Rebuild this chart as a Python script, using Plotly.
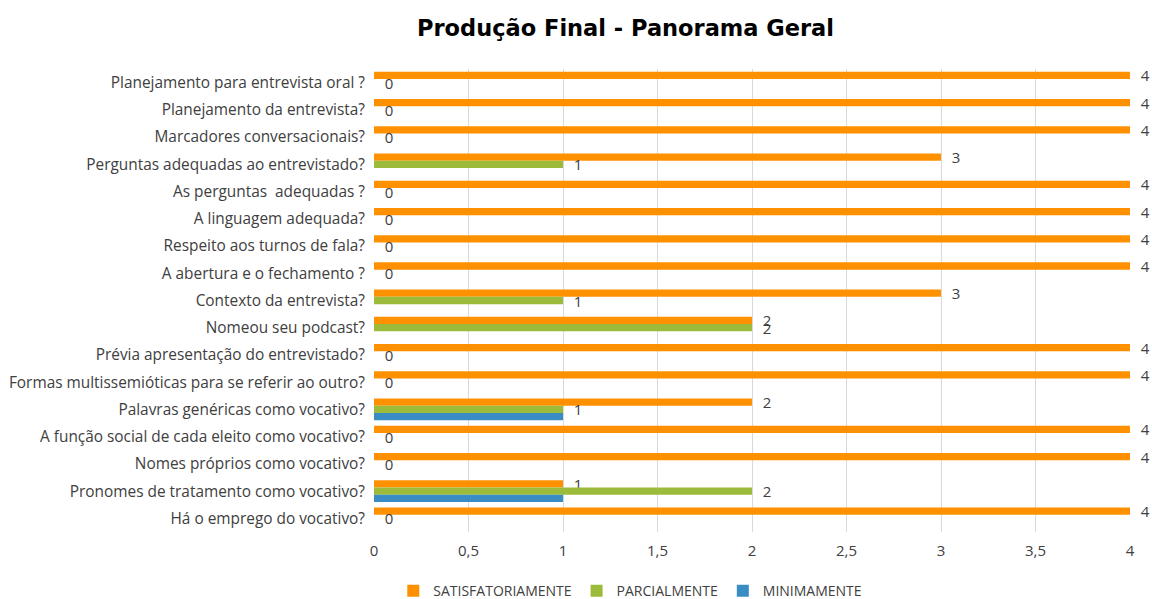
import plotly.graph_objects as go

categories = [
    "Planejamento para entrevista oral ?",
    "Planejamento da entrevista?",
    "Marcadores conversacionais?",
    "Perguntas adequadas ao entrevistado?",
    "As perguntas  adequadas ?",
    "A linguagem adequada?",
    "Respeito aos turnos de fala?",
    "A abertura e o fechamento ?",
    "Contexto da entrevista?",
    "Nomeou seu podcast?",
    "Prévia apresentação do entrevistado?",
    "Formas multissemióticas para se referir ao outro?",
    "Palavras genéricas como vocativo?",
    "A função social de cada eleito como vocativo?",
    "Nomes próprios como vocativo?",
    "Pronomes de tratamento como vocativo?",
    "Há o emprego do vocativo?",
]
satisfatoriamente = [4, 4, 4, 3, 4, 4, 4, 4, 3, 2, 4, 4, 2, 4, 4, 1, 4]
parcialmente = [0, 0, 0, 1, 0, 0, 0, 0, 1, 2, 0, 0, 1, 0, 0, 2, 0]
minimamente = [0, 0, 0, 0, 0, 0, 0, 0, 0, 0, 0, 0, 1, 0, 0, 1, 0]
x_ticks = [0, 0.5, 1, 1.5, 2, 2.5, 3, 3.5, 4]

FONT = "Open Sans"
TXT = "#404040"
pad = "\u00a0\u00a0"

fig = go.Figure()
fig.add_trace(go.Bar(
    y=categories, x=satisfatoriamente, orientation="h", name="SATISFATORIAMENTE",
    marker=dict(color="#FF9000", line=dict(width=0)),
    text=[pad + str(v) for v in satisfatoriamente], textposition="outside",
    constraintext="none",
    textfont=dict(family=FONT, size=15, color=TXT), cliponaxis=False,
))
fig.add_trace(go.Bar(
    y=categories, x=parcialmente, orientation="h", name="PARCIALMENTE",
    marker=dict(color="#9DBB3A", line=dict(width=0)),
    text=[pad + str(v) for v in parcialmente], textposition="outside",
    constraintext="none",
    textfont=dict(family=FONT, size=15, color=TXT), cliponaxis=False,
))
fig.add_trace(go.Bar(
    y=categories, x=minimamente, orientation="h", name="MINIMAMENTE",
    marker=dict(color="#3A8DC4", line=dict(width=0)),
))

fig.update_layout(
    width=1152, height=599,
    paper_bgcolor="white", plot_bgcolor="white",
    separators=",.",
    barmode="group", bargap=0.2, bargroupgap=0,
    margin=dict(l=374, r=22, t=69, b=67, autoexpand=False),
    title=dict(text="<b>Produção Final - Panorama Geral</b>", x=0.543, xanchor="center",
               y=0.953, yanchor="middle",
               font=dict(family="DejaVu Sans", size=22.5, color="#000000")),
    font=dict(family=FONT, size=15, color=TXT),
    showlegend=True,
    legend=dict(orientation="h", x=0.339, xanchor="center", y=-0.093, yanchor="top",
                traceorder="normal", font=dict(family=FONT, size=14, color=TXT),
                itemwidth=30),
)
fig.update_xaxes(range=[0, 4], tickvals=x_ticks, showgrid=True, gridcolor="#D9D9D9",
                 gridwidth=1, zeroline=False, showline=False, ticks="",
                 ticklabelstandoff=8,
                 tickfont=dict(family=FONT, size=15, color=TXT))
fig.update_yaxes(autorange="reversed", showgrid=False, showline=False, ticks="",
                 ticklabelstandoff=8,
                 tickfont=dict(family=FONT, size=15.4, color=TXT))

fig.write_html("out.html", config={"displayModeBar": False})
with open("out.html", encoding="utf-8") as f:
    html = f.read()
html = html.replace("<body>", '<body style="margin:0;overflow:hidden">', 1)
with open("out.html", "w", encoding="utf-8") as f:
    f.write(html)
